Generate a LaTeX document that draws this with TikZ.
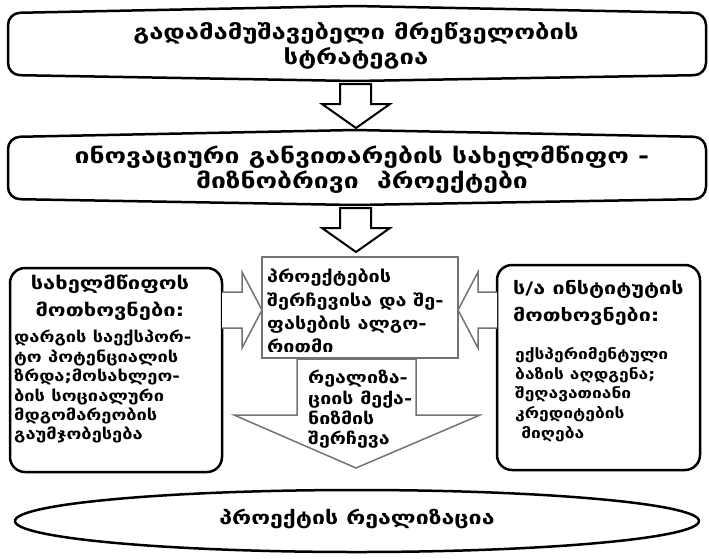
\documentclass[tikz,border=0pt]{standalone}
\usepackage{fontspec}
\setmainfont{DejaVu Sans}
\newfontfamily\capfont[FakeStretch=1.25]{DejaVu Sans}
\newfontfamily\bodyfont[FakeStretch=1.2]{DejaVu Sans}
\tikzset{
  heavy/.style={draw=black, line width=2.5pt, line join=round},
  arrowblack/.style={draw=black, line width=2pt, fill=white, line join=miter},
  arrowgray/.style={draw=black!55, line width=1.5pt, fill=white, line join=miter},
  captext/.style={font=\capfont\bfseries\fontsize{20.5}{25}\selectfont, align=center, inner sep=0pt},
  titletext/.style={font=\capfont\bfseries\fontsize{17.5}{27}\selectfont, inner sep=0pt},
  bodytext/.style={font=\bodyfont\bfseries\fontsize{14.5}{19.5}\selectfont, inner sep=0pt, align=left},
}
\begin{document}
\begin{tikzpicture}[x=1pt,y=-1pt]
\useasboundingbox (0,0) rectangle (709,558);
% top box
\draw[heavy, rounded corners=12pt] (8,13) -- (355,6) -- (706,13) -- (706,75) -- (355,81) -- (8,75) -- cycle;
\node[captext] (top) at (356,46) {გადამამუშავებელი მრეწველობის\\სტრატეგია};
% arrow 1
\draw[arrowblack] (340,84) -- (371,84) -- (371,104) -- (390,104) -- (356,128) -- (322,104) -- (340,104) -- cycle;
% second box
\draw[heavy, rounded corners=12pt] (8,137) -- (355,130) -- (706,137) -- (706,199) -- (355,205) -- (8,199) -- cycle;
\node[captext, font=\capfont\bfseries\fontsize{21.2}{25}\selectfont] (second) at (362,170) {ინოვაციური განვითარების სახელმწიფო -\\მიზნობრივი\ \ პროექტები};
% arrow 2
\draw[arrowblack] (340,208) -- (371,208) -- (371,228) -- (390,228) -- (356,252) -- (322,228) -- (340,228) -- cycle;
% center rectangle
\draw[draw=black!55, line width=1.5pt] (262,257) rectangle (458,358);
\node[bodytext, anchor=north west, font=\bodyfont\bfseries\fontsize{16.5}{23.3}\selectfont] (center) at (267,269) {პროექტების\\შერჩევისა და შე-\\ფასების ალგო-\\რითმი};
% big down arrow
\draw[arrowgray] (297,359) -- (416,359) -- (416,415) -- (480,415) -- (356,468) -- (234,415) -- (297,415) -- cycle;
\node[bodytext, anchor=north west, font=\bodyfont\bfseries\fontsize{16.3}{20.3}\selectfont] (mech) at (308,370) {რეალიზა-\\ციის მექა-\\ნიზმის\\შერჩევა};
% left box
\draw[heavy, rounded corners=15pt] (10,268) rectangle (222,472);
\node[titletext, align=center] (lefttitle) at (110,298) {სახელმწიფოს\\მოთხოვნები:};
\node[bodytext, anchor=north west, font=\bodyfont\bfseries\fontsize{15.2}{19.4}\selectfont] (leftbody) at (14,330) {დარგის საექსპორ-\\ტო პოტენციალის\\ზრდა;მოსახლეო-\\ბის სოციალური\\მდგომარეობის\\გაუმჯობესება};
% right box
\draw[heavy, rounded corners=15pt] (497,265) rectangle (700,470);
\node[titletext, align=left, anchor=north west, font=\capfont\bfseries\fontsize{17.2}{27}\selectfont] (righttitle) at (513,280) {ს/ა ინსტიტუტის\\მოთხოვნები:};
\node[bodytext, anchor=north west, font=\bodyfont\bfseries\fontsize{14.5}{19.8}\selectfont] (rightbody) at (515,347) {ექსპერიმენტული\\ბაზის აღდგენა;\\შეღავათიანი\\კრედიტების\\\ მიღება};
% side arrows
\draw[arrowgray] (222,292) -- (242,292) -- (242,272) -- (262,310) -- (242,348) -- (242,328) -- (222,328);
\draw[arrowgray] (497,292) -- (478,292) -- (478,272) -- (458,310) -- (478,348) -- (478,328) -- (497,328);
% bottom ellipse
\draw[heavy] (357,521) ellipse (342pt and 31pt);
\node[captext, font=\capfont\bfseries\fontsize{18.5}{25}\selectfont] (bottom) at (357,519) {პროექტის რეალიზაცია};
\end{tikzpicture}
\end{document}
